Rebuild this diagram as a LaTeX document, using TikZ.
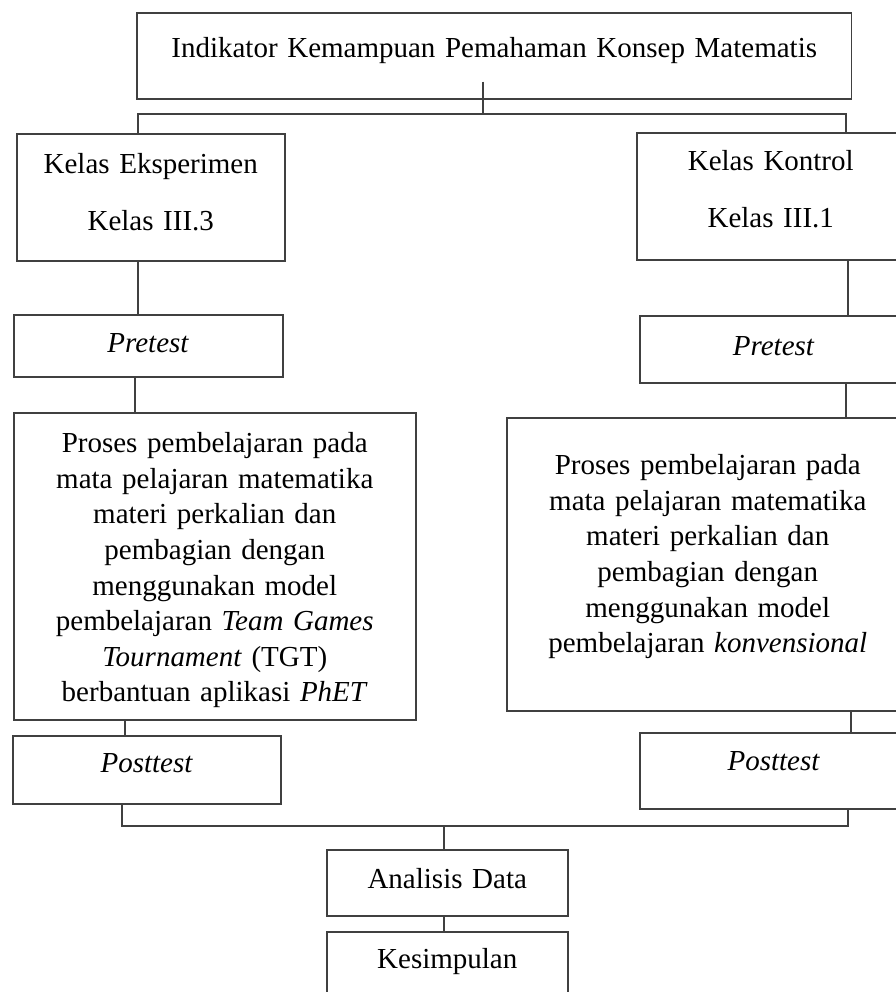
\documentclass[tikz,border=0pt]{standalone}
\usepackage{fontspec}
\setmainfont{Liberation Serif}
\usetikzlibrary{positioning,calc}
\tikzset{
boxnode/.style={rectangle, draw=black!75, line width=0.9pt, inner sep=0pt,
                anchor=north west, align=center,
                font=\fontsize{16.5}{20.25}\selectfont},
kelasnode/.style={boxnode, font=\fontsize{16.5}{32.3}\selectfont},
link/.style={draw=black!75, line width=0.9pt}
}

\begin{document}
\begin{tikzpicture}[x=0.02cm, y=-0.02cm]
\useasboundingbox (0,0) rectangle (896,992);
\clip (0,0) rectangle (896,992);

%Boxes
\node[boxnode, text width=14.3cm, text height=0.9cm, text depth=0.82cm] (indikator) at(136,12) {Indikator Kemampuan Pemahaman Konsep Matematis};

\node[kelasnode, text width=5.36cm, text height=0.8cm, text depth=1.74cm] (kelasE) at(16,133) {Kelas Eksperimen\\Kelas III.3};
\node[kelasnode, text width=5.36cm, text height=0.76cm, text depth=1.78cm] (kelasK) at(636,132) {Kelas Kontrol\\Kelas III.1};

\node[boxnode, text width=5.38cm, text height=0.76cm, text depth=0.48cm] (preE) at(13,314) {\textit{Pretest}};
\node[boxnode, text width=5.36cm, text height=0.8cm, text depth=0.54cm] (preK) at(639,315) {\textit{Pretest}};

\node[boxnode, text width=8.04cm, text height=0.8cm, text depth=5.34cm] (prosesE) at(13,412) {Proses pembelajaran pada\\mata pelajaran matematika\\materi perkalian dan\\pembagian dengan\\menggunakan model\\pembelajaran \textit{Team Games}\\\textit{Tournament} (TGT)\\berbantuan aplikasi \textit{PhET}};
\node[boxnode, text width=8.04cm, text height=1.14cm, text depth=4.72cm] (prosesK) at(506,417) {Proses pembelajaran pada\\mata pelajaran matematika\\materi perkalian dan\\pembagian dengan\\menggunakan model\\pembelajaran \textit{konvensional}};

\node[boxnode, text width=5.36cm, text height=0.74cm, text depth=0.62cm] (postE) at(12,735) {\textit{Posttest}};
\node[boxnode, text width=5.36cm, text height=0.76cm, text depth=0.76cm] (postK) at(639,732) {\textit{Posttest}};

\node[boxnode, text width=4.82cm, text height=0.78cm, text depth=0.54cm] (analisis) at(326,849) {Analisis Data};
\node[boxnode, text width=4.82cm, text height=0.74cm, text depth=0.64cm] (kesimpulan) at(326,931) {Kesimpulan};

%Connectors
\coordinate (split) at(483,114);
\coordinate (merge) at(444,826);

\draw[link] ($(indikator.south -| split)+(0,-18)$) -- (split);
\draw[link] (kelasE.north -| 138,0) |- (split) -| (kelasK.north -| 846,0);

\draw[link] (kelasE.south -| 138,0) -- (preE.north -| 138,0);
\draw[link] (preE.south -| 135,0) -- (prosesE.north -| 135,0);
\draw[link] (prosesE.south -| 125,0) -- (postE.north -| 125,0);

\draw[link] (kelasK.south -| 848,0) -- (preK.north -| 848,0);
\draw[link] (preK.south -| 846,0) -- (prosesK.north -| 846,0);
\draw[link] (prosesK.south -| 851,0) -- (postK.north -| 851,0);

\draw[link] (postE.south -| 122,0) |- (merge) -| (postK.south -| 848,0);
\draw[link] (merge) -- (analisis.north -| merge);
\draw[link] (analisis.south -| merge) -- (kesimpulan.north -| merge);
\end{tikzpicture}
\end{document}
